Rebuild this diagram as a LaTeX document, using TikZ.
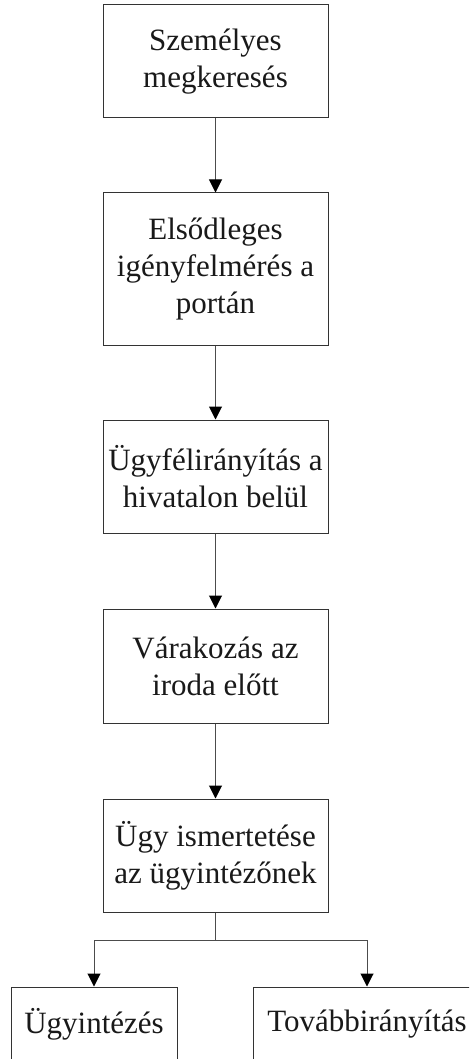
\documentclass[tikz,border=0pt]{standalone}
\usepackage{fontspec}
\setmainfont{Liberation Serif}
\usetikzlibrary{arrows.meta}
\newcommand{\boxfont}{\fontsize{31}{37}\selectfont}
\begin{document}
\begin{tikzpicture}[x=1pt,y=1pt,
  box/.style={draw=black!80, line width=1pt, align=center, font=\boxfont,
    inner sep=0pt, minimum width=225pt, text=black!90},
  conn/.style={draw=black!70, line width=1pt,
    -{Triangle[width=13pt,length=13pt,color=black]}},
  plain/.style={draw=black!70, line width=1pt}]
\useasboundingbox (0,0) rectangle (469,-1059);
\clip (0,0) rectangle (469,-1059);
\fill[white] (0,0) rectangle (469,-1059);
\node[box, minimum height=113pt] (b1) at (215.5,-61.5) {Személyes\\megkeresés};
\node[box, minimum height=152pt] (b2) at (215.5,-269) {Elsődleges\\igényfelmérés a\\portán};
\node[box, minimum height=113pt] (b3) at (215.5,-476.5) {Ügyfélirányítás a\\hivatalon belül};
\node[box, minimum height=114pt] (b4) at (215.5,-666) {Várakozás az\\iroda előtt};
\node[box, minimum height=113pt] (b5) at (215.5,-855.5) {Ügy ismertetése\\az ügyintézőnek};
\node[box, minimum width=166pt, minimum height=74pt] (l) at (94,-1024) {Ügyintézés};
\node[box, minimum width=228pt, minimum height=74pt] (r) at (367,-1024) {Továbbirányítás};
\coordinate (split) at (215.5,-940);
\coordinate (sl) at (94,-940);
\coordinate (sr) at (367,-940);
\draw[conn] (b1) -- (b2);
\draw[conn] (b2) -- (b3);
\draw[conn] (b3) -- (b4);
\draw[conn] (b4) -- (b5);
\draw[plain] (b5.south) -- (split);
\draw[conn] (split) -- (sl) -- (l.north);
\draw[conn] (split) -- (sr) -- (r.north);
\end{tikzpicture}
\end{document}
